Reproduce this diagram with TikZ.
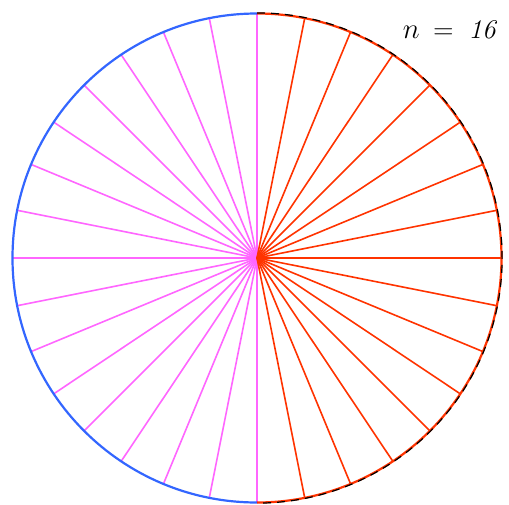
\documentclass[tikz,border=0pt]{standalone}
\usepackage{tikz}
\usetikzlibrary{calc}
\definecolor{spokeL}{RGB}{255,102,255}
\definecolor{spokeR}{RGB}{255,51,0}
\definecolor{rimL}{RGB}{51,102,255}
\tikzset{
  spl/.style={draw=spokeL, line width=0.8pt},
  spr/.style={draw=spokeR, line width=0.8pt},
  riml/.style={draw=rimL, line width=1.1pt},
  rimr/.style={draw=spokeR, line width=1.1pt},
  rimdash/.style={draw=black, line width=0.6pt, dash pattern=on 4pt off 3pt},
  lab/.style={font=\fontsize{13.5}{15}\selectfont, anchor=base},
}
\begin{document}
\begin{tikzpicture}[x=0.5pt, y=-0.5pt]
  \useasboundingbox (0,0) rectangle (509,504);
  \coordinate (O) at (257,258);
  \def\rr{244.5}
  % spokes, left half incl. verticals
  \foreach \a in {0,...,16}
    \draw[spl] (O) -- ($(O)+(90+11.25*\a:\rr)$);
  % spokes, right half
  \foreach \a in {1,...,15}
    \draw[spr] (O) -- ($(O)+(90-11.25*\a:\rr)$);
  % rim
  \draw[riml] ($(O)+(0,-\rr)$) arc[start angle=-90, end angle=-270, radius=\rr];
  \draw[rimr] ($(O)+(0,-\rr)$) arc[start angle=-90, end angle=90, radius=\rr];
  \draw[rimdash] ($(O)+(0,-\rr-0.6)$) arc[start angle=-90, end angle=90, radius=\rr+0.6];
  % label
  \node[lab] (nlab) at (450,38) {$n$\hspace{0.5em}=\hspace{0.55em}\textit{16}};
\end{tikzpicture}
\end{document}
